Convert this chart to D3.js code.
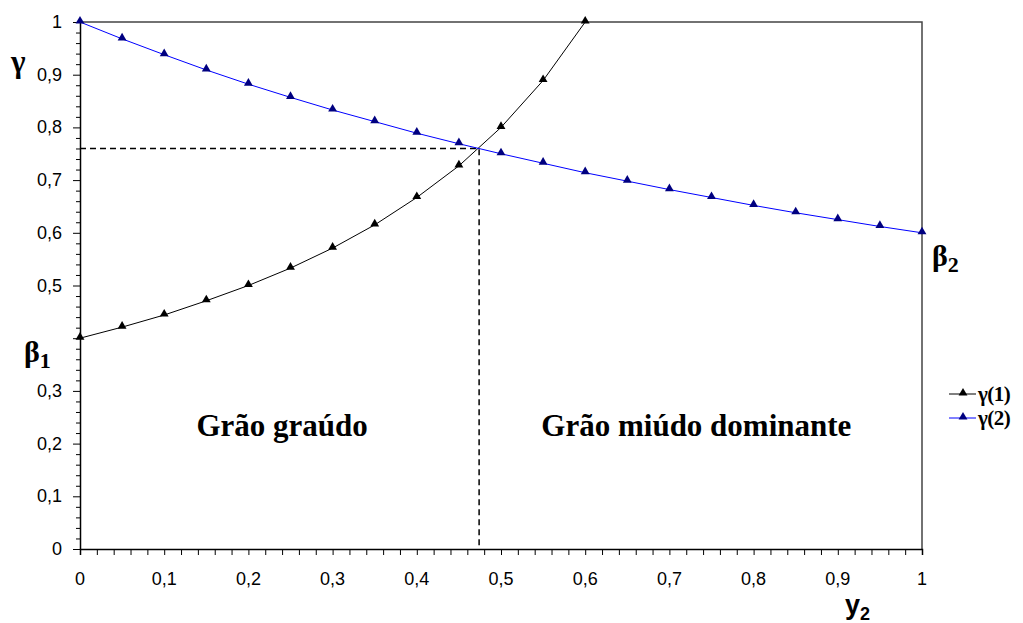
<!DOCTYPE html>
<html>
<head>
<meta charset="utf-8">
<script src="https://cdn.jsdelivr.net/npm/d3@7"></script>
<style>
  body { margin: 0; background: #fff; }
  svg { display: block; }
</style>
</head>
<body>
<div class="container"></div>
<script>
var W = 1023, H = 623;
var margin = {top: 22, right: 101, bottom: 74, left: 80},
    width = W - margin.left - margin.right,
    height = H - margin.top - margin.bottom;

// data
var y2_g1 = [0, 0.05, 0.1, 0.15, 0.2, 0.25, 0.3, 0.35, 0.4, 0.45, 0.5, 0.55, 0.6];
var gamma1 = [0.4, 0.421, 0.444, 0.471, 0.5, 0.533, 0.571, 0.615, 0.667, 0.727, 0.8, 0.889, 1.0];
var y2_g2 = [0, 0.05, 0.1, 0.15, 0.2, 0.25, 0.3, 0.35, 0.4, 0.45, 0.5,
             0.55, 0.6, 0.65, 0.7, 0.75, 0.8, 0.85, 0.9, 0.95, 1];
var gamma2 = [1.0, 0.968, 0.938, 0.909, 0.882, 0.857, 0.833, 0.811, 0.789, 0.769, 0.75,
              0.732, 0.714, 0.698, 0.682, 0.667, 0.652, 0.638, 0.625, 0.612, 0.6];
var cross = [0.474, 0.76];
var xTickLabels = [0, 0.1, 0.2, 0.3, 0.4, 0.5, 0.6, 0.7, 0.8, 0.9, 1];
var yTickLabels = [0, 0.1, 0.2, 0.3, 0.5, 0.6, 0.7, 0.8, 0.9, 1];
var regions = [["Grão graúdo", 0.24], ["Grão miúdo dominante", 0.732]];
var regionY = 0.214;
var seriesNames = ["γ(1)", "γ(2)"];
var seriesColors = ["#000000", "#0000ff"];
var markerColors = ["#000000", "#000080"];

var sans = "'Liberation Sans', Arial, sans-serif";
var serif = "'Liberation Serif', 'Times New Roman', serif";

var x_scale = d3.scaleLinear().domain([0, 1]).range([0, width]);
var y_scale = d3.scaleLinear().domain([0, 1]).range([height, 0]);

var svg = d3.select("div.container").append("svg")
    .attr("width", W)
    .attr("height", H);

var g = svg.append("g")
    .attr("transform", "translate(" + margin.left + "," + margin.top + ")");

// frame: top and right border
g.append("path")
    .attr("d", "M0,0H" + width + "V" + height)
    .attr("fill", "none")
    .attr("stroke", "#444")
    .attr("stroke-width", 1.5);

var fmt = function (d) { return d3.format("")(d).replace(".", ","); };

// x axis, ticks every 0.02
var xAxis = g.append("g")
    .attr("transform", "translate(0," + height + ")")
    .call(d3.axisBottom(x_scale).tickValues(d3.range(0, 51).map(function (i) { return i / 50; }))
      .tickSize(6).tickFormat(""));
xAxis.select(".domain").attr("stroke-width", 1.5);

g.selectAll(".xlab").data(xTickLabels).enter().append("text")
    .attr("x", function (d) { return x_scale(d); })
    .attr("y", height + 36)
    .attr("text-anchor", "middle")
    .style("font-family", sans)
    .style("font-size", "18px")
    .text(fmt);

// y axis, minor ticks every 0.02
var yAxis = g.append("g")
    .call(d3.axisLeft(y_scale).tickValues(d3.range(0, 51).map(function (i) { return i / 50; }))
      .tickSizeInner(4).tickSizeOuter(0).tickFormat(""));
yAxis.select(".domain").attr("stroke-width", 1.5);
yAxis.selectAll(".tick line")
    .attr("x2", function (d) { return Math.round(d * 50) % 5 === 0 ? -7 : -4; });

g.selectAll(".ylab").data(yTickLabels).enter().append("text")
    .attr("x", -18)
    .attr("y", function (d) { return y_scale(d) + 6; })
    .attr("text-anchor", "end")
    .style("font-family", sans)
    .style("font-size", "18px")
    .text(fmt);

// dashed guide lines
g.append("path")
    .attr("d", "M" + x_scale(0) + "," + y_scale(cross[1]) + "H" + x_scale(cross[0]) + "V" + y_scale(0))
    .attr("fill", "none")
    .attr("stroke", "#000")
    .attr("stroke-width", 1.5)
    .style("stroke-dasharray", "6,4");

var line = d3.line()
    .x(function (d) { return x_scale(d[0]); })
    .y(function (d) { return y_scale(d[1]); });

var tri = d3.symbol().type(d3.symbolTriangle).size(34);

var series = [d3.zip(y2_g1, gamma1), d3.zip(y2_g2, gamma2)];

series.forEach(function (dat, i) {
  g.append("path")
      .datum(dat)
      .attr("fill", "none")
      .attr("stroke", seriesColors[i])
      .attr("stroke-width", 1)
      .attr("d", line);
  g.selectAll(".pt" + i).data(dat).enter().append("path")
      .attr("transform", function (d) { return "translate(" + x_scale(d[0]) + "," + (y_scale(d[1]) - 1) + ")"; })
      .attr("d", tri)
      .attr("fill", markerColors[i]);
});

// region labels
g.selectAll(".region").data(regions).enter().append("text")
    .attr("x", function (d) { return x_scale(d[1]); })
    .attr("y", y_scale(regionY))
    .attr("text-anchor", "middle")
    .style("font-family", serif)
    .style("font-weight", "bold")
    .style("font-size", "31px")
    .text(function (d) { return d[0]; });

// symbol labels
svg.append("text")
    .attr("x", 11).attr("y", 72)
    .style("font-family", serif).style("font-weight", "bold").style("font-size", "31px")
    .text("γ");

function betaLabel(x, y, sub) {
  var t = svg.append("text").attr("x", x).attr("y", y)
      .style("font-family", serif).style("font-size", "30px").style("font-weight", "bold");
  t.append("tspan").text("β");
  t.append("tspan").attr("dy", 6).style("font-size", "22px").text(sub);
}
betaLabel(24, 362, "1");
betaLabel(932, 266, "2");

var yl = svg.append("text").attr("x", 845).attr("y", 614)
    .style("font-family", sans).style("font-weight", "bold").style("font-size", "27px");
yl.append("tspan").text("y");
yl.append("tspan").attr("dy", 6).style("font-size", "18px").text("2");

// legend
var legend = svg.append("g").attr("transform", "translate(949,394)");
seriesNames.forEach(function (name, i) {
  var row = legend.append("g").attr("transform", "translate(0," + (i * 24) + ")");
  row.append("line").attr("x1", 0).attr("x2", 27).attr("y1", 0).attr("y2", 0)
      .attr("stroke", seriesColors[i]).attr("stroke-width", 1);
  row.append("path").attr("transform", "translate(14,-1)").attr("d", tri).attr("fill", markerColors[i]);
  row.append("text").attr("x", 29).attr("y", 7)
      .style("font-family", serif).style("font-weight", "bold").style("font-size", "21px")
      .style("letter-spacing", "-0.5px")
      .text(name);
});
</script>
</body>
</html>
